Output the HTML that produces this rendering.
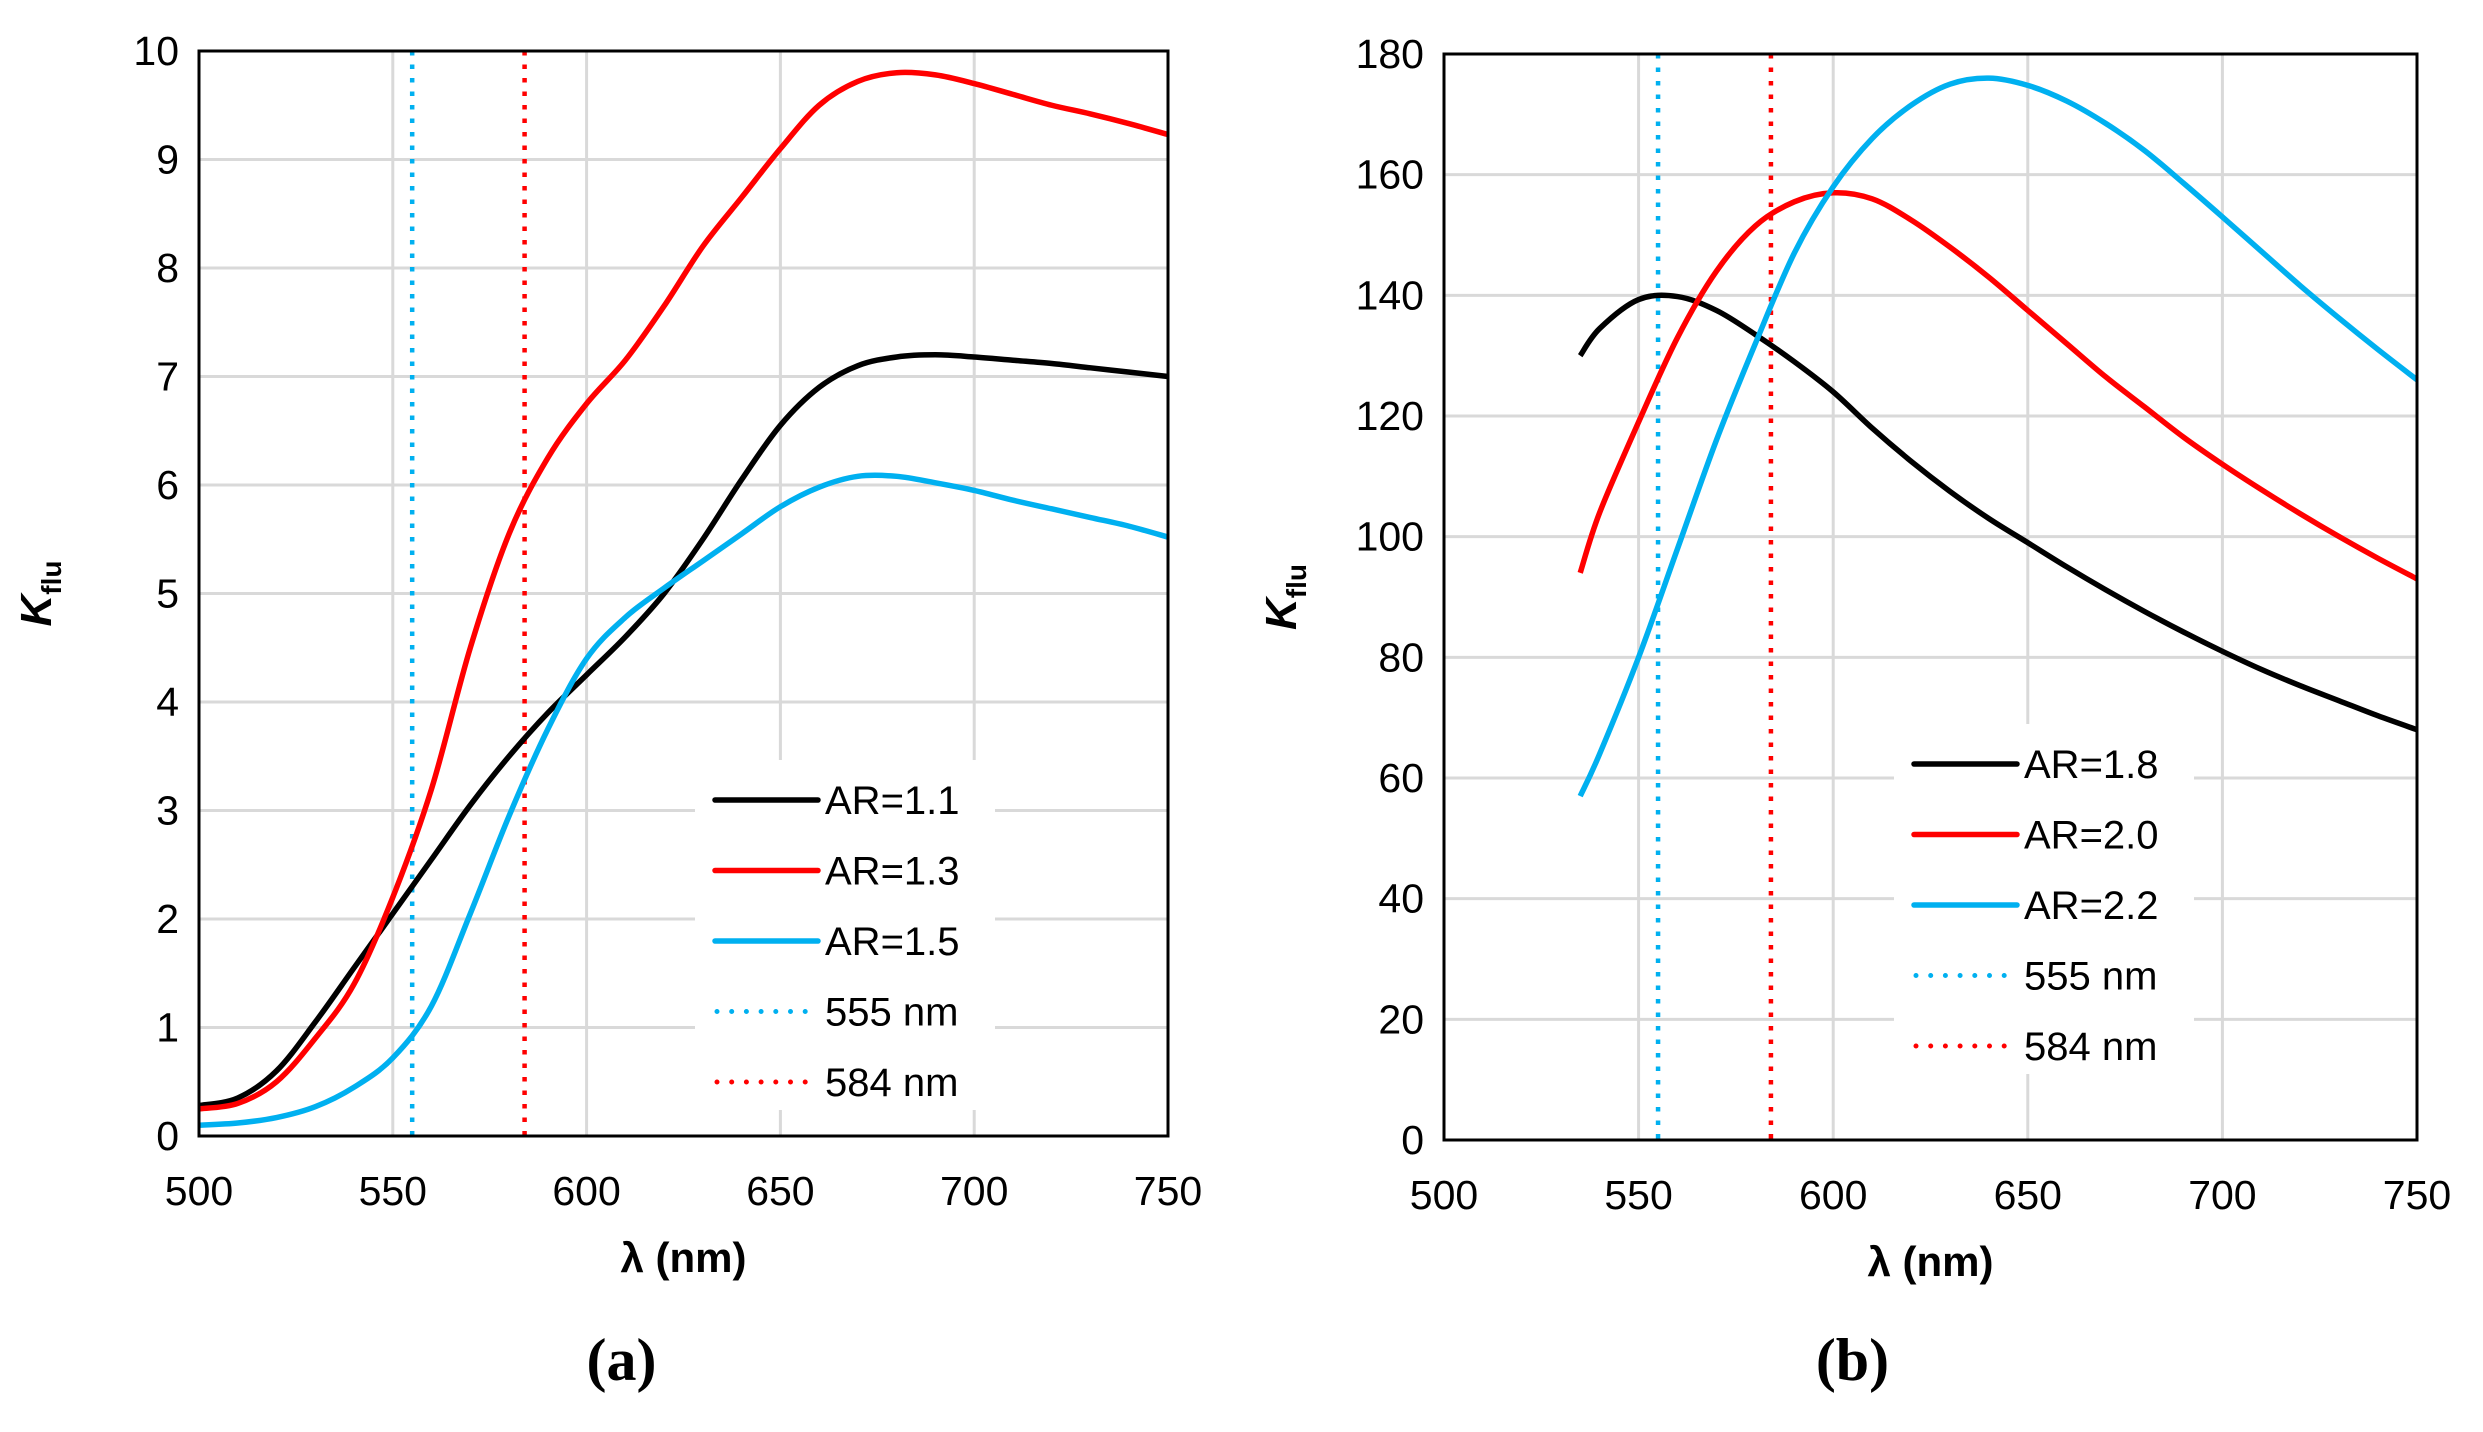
<!DOCTYPE html>
<html><head><meta charset="utf-8"><style>
html,body{margin:0;padding:0;background:#fff;}
svg{display:block;font-family:"Liberation Sans",Arial,sans-serif;}
</style></head><body>
<svg id="fig" width="2483" height="1432" viewBox="0 0 2483 1432"></svg>
<script>
const NS="http://www.w3.org/2000/svg";
const svg=document.getElementById('fig');
// ---- Data: panel (a)
const xA=[500,510,520,530,540,550,560,570,580,590,600,610,620,630,640,650,660,670,680,690,700,710,720,730,740,750];
const a11=[0.28,0.35,0.6,1.05,1.55,2.05,2.55,3.05,3.5,3.9,4.25,4.6,5.0,5.5,6.05,6.55,6.9,7.1,7.18,7.2,7.18,7.15,7.12,7.08,7.04,7.0];
const a13=[0.25,0.3,0.5,0.9,1.4,2.2,3.2,4.5,5.55,6.25,6.75,7.15,7.65,8.2,8.65,9.1,9.5,9.72,9.8,9.78,9.7,9.6,9.5,9.42,9.33,9.23];
const a15=[0.1,0.12,0.17,0.27,0.45,0.72,1.2,2.05,2.95,3.75,4.4,4.78,5.05,5.3,5.55,5.8,5.98,6.08,6.08,6.02,5.95,5.86,5.78,5.7,5.62,5.52];
const yTicksA=[0,1,2,3,4,5,6,7,8,9,10];
// ---- Data: panel (b)
const xB=[535,540,550,560,570,580,590,600,610,620,630,640,650,660,670,680,690,700,710,720,730,740,750];
const b18=[130,134.5,139.3,139.8,137.5,133.5,129,124,118,112.5,107.5,103,99,95,91.2,87.6,84.2,81,78,75.3,72.8,70.3,68];
const b20=[94,104,119,133,144,151.5,155.5,157,156,152.5,148,143,137.5,132,126.5,121.5,116.5,112,107.8,103.8,100,96.4,93];
const b22=[57,64,80,98,116,132,147,158,166,171.5,175,176,174.8,172.2,168.5,164,158.6,153,147.3,141.6,136.2,131,126];
const yTicksB=[0,20,40,60,80,100,120,140,160,180];
const xTicks=[500,550,600,650,700,750];
const markers=[555,584];

function el(tag,attrs,parent){const e=document.createElementNS(NS,tag);for(const k in attrs)e.setAttribute(k,attrs[k]);(parent||svg).appendChild(e);return e;}
function smooth(pts){let d='M'+pts[0][0]+','+pts[0][1];for(let i=0;i<pts.length-1;i++){const p0=pts[Math.max(i-1,0)],p1=pts[i],p2=pts[i+1],p3=pts[Math.min(i+2,pts.length-1)];
const c1=[p1[0]+(p2[0]-p0[0])/6,p1[1]+(p2[1]-p0[1])/6],c2=[p2[0]-(p3[0]-p1[0])/6,p2[1]-(p3[1]-p1[1])/6];d+=' C'+c1+' '+c2+' '+p2;}return d;}

function panel(cfg){
  const g=el('g',{});
  
  
  const X=v=>cfg.L+(v-500)/250*(cfg.R-cfg.L);
  const Y=v=>cfg.B-v/cfg.ymax*(cfg.B-cfg.T);
  cfg.yt.forEach(t=>{const l=el('line',{x1:cfg.L,x2:cfg.R,y1:Y(t),y2:Y(t),stroke:'#d9d9d9','stroke-width':3},g);
    
    const tx=el('text',{x:cfg.L-20,y:Y(t)+14,'text-anchor':'end','font-size':41,fill:'#000'},g);tx.textContent=t;
    });
  xTicks.forEach(t=>{const l=el('line',{x1:X(t),x2:X(t),y1:cfg.T,y2:cfg.B,stroke:'#d9d9d9','stroke-width':3},g);
    
    const tx=el('text',{x:X(t),y:cfg.B+69,'text-anchor':'middle','font-size':41,fill:'#000'},g);tx.textContent=t;
    });
  const mc=['#00b0f0','#ff0000'];
  markers.forEach((m,i)=>{const l=el('line',{x1:X(m),x2:X(m),y1:cfg.T,y2:cfg.B,stroke:mc[i],'stroke-width':4.5,'stroke-dasharray':'4.5 9','stroke-linecap':'butt'},g);
    });
  const cols=['#000','#ff0000','#00b0f0'];
  cfg.series.forEach((s,i)=>{const p=el('path',{d:smooth(cfg.x.map((x,j)=>[X(x),Y(s[j])])),fill:'none',stroke:cols[i],'stroke-width':5.5,'stroke-linejoin':'round'},g);
    });
  const fr=el('rect',{x:cfg.L,y:cfg.T,width:cfg.R-cfg.L,height:cfg.B-cfg.T,fill:'none',stroke:'#000','stroke-width':3},g);
  
  // legend
  const lg=el('g',{},g);
  el('rect',{x:cfg.lx-20,y:cfg.ly-40,width:300,height:350,fill:'#fff'},lg);
  const names=cfg.labels.concat(['555 nm','584 nm']);
  names.forEach((n,i)=>{const y=cfg.ly+i*70.5;
    const ent=el('g',{},lg);
    if(i<3) el('line',{x1:cfg.lx,x2:cfg.lx+103,y1:y,y2:y,stroke:cols[i],'stroke-width':5.5,'stroke-linecap':'round'},ent);
    else el('line',{x1:cfg.lx+2,x2:cfg.lx+98,y1:y,y2:y,stroke:mc[i-3],'stroke-width':5,'stroke-dasharray':'0 14.7','stroke-linecap':'round'},ent);
    const t=el('text',{x:cfg.lx+110,y:y+14,'font-size':40,fill:'#000'},ent);t.textContent=n;});
  const xt=el('text',{x:(cfg.L+cfg.R)/2,y:cfg.B+136,'text-anchor':'middle','font-size':42,'font-weight':'bold'},g);xt.textContent='λ (nm)';
  
  const yt=el('text',{transform:`translate(${cfg.L-148},${(cfg.T+cfg.B)/2}) rotate(-90)`,'text-anchor':'middle','font-size':44,'font-weight':'bold','font-style':'italic'},g);
  yt.innerHTML='K<tspan font-size="28" font-style="normal" dy="10">flu</tspan>';
  
  const cap=el('text',{x:(cfg.L+cfg.R)/2+cfg.cdx,y:1380,'text-anchor':'middle','font-size':60,'font-weight':'bold','font-family':'"Liberation Serif",serif'},g);
  cap.textContent=cfg.cap;
}
panel({name:'chart-a',L:199,R:1168,T:51,B:1136,ymax:10,yt:yTicksA,x:xA,series:[a11,a13,a15],labels:['AR=1.1','AR=1.3','AR=1.5'],lx:715,ly:800,cap:'(a)',cdx:-62});
panel({name:'chart-b',L:1444,R:2417,T:54,B:1140,ymax:180,yt:yTicksB,x:xB,series:[b18,b20,b22],labels:['AR=1.8','AR=2.0','AR=2.2'],lx:1914,ly:764,cap:'(b)',cdx:-78});
</script>
</body></html>
